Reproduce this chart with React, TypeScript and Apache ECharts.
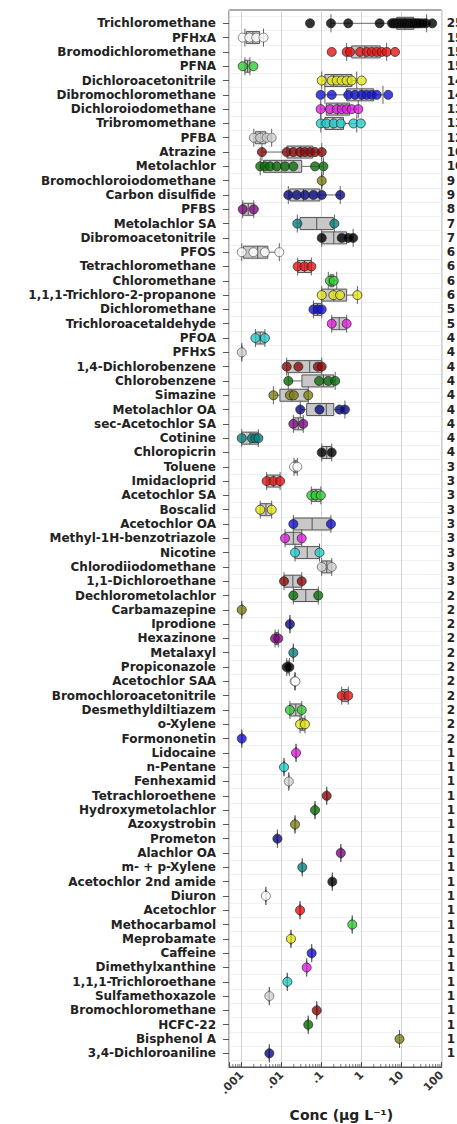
import React, { useEffect, useRef } from 'react';
import * as echarts from 'echarts';

const compounds: string[] = [
  'Trichloromethane', 'PFHxA', 'Bromodichloromethane', 'PFNA', 'Dichloroacetonitrile',
  'Dibromochloromethane', 'Dichloroiodomethane', 'Tribromomethane', 'PFBA', 'Atrazine',
  'Metolachlor', 'Bromochloroiodomethane', 'Carbon disulfide', 'PFBS', 'Metolachlor SA',
  'Dibromoacetonitrile', 'PFOS', 'Tetrachloromethane', 'Chloromethane', '1,1,1-Trichloro-2-propanone',
  'Dichloromethane', 'Trichloroacetaldehyde', 'PFOA', 'PFHxS', '1,4-Dichlorobenzene',
  'Chlorobenzene', 'Simazine', 'Metolachlor OA', 'sec-Acetochlor SA', 'Cotinine',
  'Chloropicrin', 'Toluene', 'Imidacloprid', 'Acetochlor SA', 'Boscalid',
  'Acetochlor OA', 'Methyl-1H-benzotriazole', 'Nicotine', 'Chlorodiiodomethane', '1,1-Dichloroethane',
  'Dechlorometolachlor', 'Carbamazepine', 'Iprodione', 'Hexazinone', 'Metalaxyl',
  'Propiconazole', 'Acetochlor SAA', 'Bromochloroacetonitrile', 'Desmethyldiltiazem', 'o-Xylene',
  'Formononetin', 'Lidocaine', 'n-Pentane', 'Fenhexamid', 'Tetrachloroethene',
  'Hydroxymetolachlor', 'Azoxystrobin', 'Prometon', 'Alachlor OA', 'm- + p-Xylene',
  'Acetochlor 2nd amide', 'Diuron', 'Acetochlor', 'Methocarbamol', 'Meprobamate',
  'Caffeine', 'Dimethylxanthine', '1,1,1-Trichloroethane', 'Sulfamethoxazole', 'Bromochloromethane',
  'HCFC-22', 'Bisphenol A', '3,4-Dichloroaniline',
];

const counts: number[] = [
  25, 15, 15, 15, 14, 14, 13, 13, 12, 10,
  10, 9, 9, 8, 7, 7, 6, 6, 6, 6,
  5, 5, 4, 4, 4, 4, 4, 4, 4, 4,
  4, 3, 3, 3, 3, 3, 3, 3, 3, 3,
  2, 2, 2, 2, 2, 2, 2, 2, 2, 2,
  2, 1, 1, 1, 1, 1, 1, 1, 1, 1,
  1, 1, 1, 1, 1, 1, 1, 1, 1, 1,
  1, 1, 1,
];

// concentrations (µg/L) of each detection, per compound
const detections: number[][] = [
  [0.051, 0.17, 0.46, 2.8, 5.7, 6.2, 6.8, 7.4, 8.1, 8.9, 9.6, 10.5, 11.5, 12.5, 13.8, 15, 16.5, 18, 20, 22, 25, 28, 33, 40, 58],
  [0.00106, 0.00155, 0.0023, 0.0035],
  [0.178, 0.42, 0.51, 0.91, 1.33, 1.78, 2.37, 3.16, 4.2, 6.8],
  [0.00106, 0.00195],
  [0.1, 0.178, 0.237, 0.316, 0.42, 0.56, 1.0],
  [0.094, 0.178, 0.46, 0.68, 1.0, 1.33, 1.78, 2.37, 4.6],
  [0.094, 0.16, 0.237, 0.316, 0.42, 0.56, 0.82],
  [0.095, 0.13, 0.2, 0.3, 0.62, 0.95],
  [0.002, 0.0029, 0.0042, 0.0056],
  [0.0032, 0.0133, 0.0195, 0.0287, 0.038, 0.051, 0.068, 0.1],
  [0.0029, 0.0038, 0.0051, 0.0075, 0.0121, 0.0195, 0.068, 0.11],
  [0.1],
  [0.0146, 0.0237, 0.038, 0.062, 0.1, 0.29],
  [0.00106, 0.002],
  [0.0245, 0.207],
  [0.1, 0.316, 0.46, 0.61],
  [0.001, 0.00195, 0.0038, 0.0087],
  [0.025, 0.037, 0.055],
  [0.16, 0.2],
  [0.1, 0.195, 0.287, 0.78],
  [0.062, 0.08, 0.1],
  [0.178, 0.42],
  [0.0022, 0.0038],
  [0.001],
  [0.0133, 0.026, 0.08, 0.1],
  [0.0146, 0.086, 0.146, 0.217],
  [0.0062, 0.016, 0.02, 0.046],
  [0.029, 0.088, 0.28, 0.38],
  [0.0195, 0.0345],
  [0.001, 0.0018, 0.0022, 0.0026],
  [0.1, 0.178],
  [0.0203, 0.0245],
  [0.0042, 0.0062, 0.0091],
  [0.055, 0.07, 0.095],
  [0.0029, 0.0056],
  [0.0195, 0.17],
  [0.0121, 0.0316],
  [0.0215, 0.088],
  [0.1, 0.178],
  [0.0114, 0.0316],
  [0.0195, 0.082],
  [0.001],
  [0.016],
  [0.0068, 0.0082],
  [0.0195],
  [0.0133, 0.0155],
  [0.021, 0.022],
  [0.316, 0.46],
  [0.016, 0.0316],
  [0.0287, 0.038],
  [0.001],
  [0.0228],
  [0.0114],
  [0.015],
  [0.133],
  [0.068],
  [0.0215],
  [0.0078],
  [0.3],
  [0.0327],
  [0.184],
  [0.004],
  [0.0287],
  [0.58],
  [0.017],
  [0.056],
  [0.042],
  [0.0138],
  [0.0049],
  [0.075],
  [0.046],
  [8.8],
  [0.0049],
];

// box statistics: [whisker low, Q1, median, Q3, whisker high]
// (rows not listed use the range of their detections)
const boxStats: Record<number, number[]> = {
  0: [0.17, 7.5, 12, 20, 42],
  1: [0.0012, 0.0013, 0.0019, 0.0028, 0.0035],
  2: [0.42, 0.56, 1.2, 2.9, 4.2],
  3: [0.0012, 0.0012, 0.0014, 0.0016, 0.0016],
  4: [0.1, 0.12, 0.2, 0.57, 0.75],
  5: [0.12, 0.42, 1.0, 2.0, 3.4],
  6: [0.094, 0.13, 0.25, 0.5, 0.82],
  7: [0.095, 0.12, 0.19, 0.35, 0.75],
  8: [0.002, 0.0022, 0.0029, 0.004, 0.0056],
  9: [0.0032, 0.0135, 0.03, 0.06, 0.1],
  10: [0.0029, 0.0035, 0.01, 0.0316, 0.11],
  12: [0.0146, 0.016, 0.035, 0.09, 0.29],
  14: [0.0245, 0.0287, 0.075, 0.195, 0.207],
  15: [0.1, 0.1, 0.2, 0.42, 0.61],
  16: [0.001, 0.0011, 0.0025, 0.0045, 0.0087],
  18: [0.146, 0.16, 0.18, 0.2, 0.237],
  19: [0.1, 0.1, 0.2, 0.42, 0.78],
  24: [0.0133, 0.0133, 0.05, 0.1, 0.1],
  25: [0.0146, 0.032, 0.11, 0.2, 0.217],
  26: [0.0062, 0.009, 0.018, 0.046, 0.046],
  27: [0.029, 0.042, 0.13, 0.2, 0.38],
};

const xTickValues: number[] = [0.001, 0.01, 0.1, 1, 10, 100];
const xTickLabels: string[] = ['.001', '.01', '.1', '1', '10', '100'];
const minorSteps: number[] = [2, 3, 4, 5, 6, 7, 8, 9];

const palette: string[] = [
  '#000000', '#ffffff', '#e41414', '#33cc33', '#e6e619', '#1414d2', '#dd1fdd', '#25cccc',
  '#cfcfcf', '#8b0a0a', '#0a6e0a', '#7f7f14', '#0a0a80', '#800a80', '#0a8080',
];

const X_MIN = 0.00048;
const X_MAX = 100;

const FONT = 'DejaVu Sans';

function buildOption() {
  const boxData = compounds.map((_, i) => {
    const vals = detections[i];
    let s = boxStats[i];
    if (!s) {
      const lo = Math.min(...vals);
      const hi = Math.max(...vals);
      const md = Math.sqrt(lo * hi);
      s = [lo, lo, md, hi, hi];
    }
    return [i, ...s];
  });

  const pointData: any[] = [];
  detections.forEach((vals, i) => {
    const c = palette[i % palette.length];
    vals.forEach((v) => {
      pointData.push({
        value: [v, i],
        itemStyle: { color: c, borderColor: c === '#ffffff' || c === '#cfcfcf' ? '#555' : '#222', borderWidth: 0.9 },
      });
    });
  });

  const minorData: number[][] = [];
  [0.0001, ...xTickValues].forEach((d) => {
    minorSteps.forEach((m) => {
      const v = d * m;
      if (v > X_MIN && v < X_MAX) minorData.push([v, 0]);
    });
  });

  const gridLeft = 229;
  const gridWidth = 212.7;

  const labelFor = (v: number) => {
    const idx = xTickValues.findIndex((t) => Math.abs(Math.log10(t) - Math.log10(v)) < 1e-6);
    return idx >= 0 ? xTickLabels[idx] : '';
  };

  return {
    animation: false,
    backgroundColor: '#ffffff',
    grid: [
      {
        left: gridLeft, width: gridWidth, top: 10, height: 1057, outerBoundsMode: 'none', containLabel: false,
        show: true, borderColor: '#555', borderWidth: 1, backgroundColor: 'transparent',
      },
      { left: gridLeft, width: gridWidth, top: 16.15, height: 1044.3, outerBoundsMode: 'none', containLabel: false },
    ],
    xAxis: [
      {
        type: 'log', gridIndex: 0, min: X_MIN, max: X_MAX, logBase: 10,
        axisLine: { show: true, onZero: false, lineStyle: { color: '#555', width: 1 } },
        axisTick: { show: true, inside: true, length: 5, lineStyle: { color: '#555' } },
        splitLine: { show: true, lineStyle: { color: '#d2d2d2', width: 1 } },
        axisLabel: {
          rotate: 45, margin: 6, fontFamily: FONT, fontWeight: 'bold', fontSize: 11, color: '#333',
          formatter: (v: number) => labelFor(v),
        },
        name: 'Conc (µg L⁻¹)',
        nameLocation: 'middle',
        nameGap: 41,
        nameTextStyle: { fontFamily: FONT, fontWeight: 'bold', fontSize: 14, color: '#222', padding: [0, 0, 0, 12] },
      },
      {
        type: 'log', gridIndex: 1, min: X_MIN, max: X_MAX, logBase: 10, show: false,
        axisLine: { onZero: false },
        splitLine: { show: false },
      },
    ],
    yAxis: [
      { type: 'value', gridIndex: 0, min: 0, max: 1, show: false, axisLine: { onZero: false }, splitLine: { show: false } },
      {
        type: 'category', gridIndex: 1, data: compounds, inverse: true, position: 'left',
        axisLine: { show: false, onZero: false },
        axisTick: { show: true, alignWithLabel: true, length: 6, lineStyle: { color: '#555' } },
        splitLine: { show: true, lineStyle: { color: '#f1f1f1', width: 1 } },
        axisLabel: { interval: 0, margin: 13, fontFamily: FONT, fontWeight: 'bold', fontSize: 12, color: '#222' },
      },
      {
        type: 'category', gridIndex: 1, data: compounds, inverse: true, position: 'right',
        axisLine: { show: false, onZero: false },
        axisTick: { show: false },
        splitLine: { show: false },
        axisLabel: {
          interval: 0, margin: 5, fontFamily: FONT, fontWeight: 'bold', fontSize: 12, color: '#222',
          formatter: (_v: string, i: number) => String(counts[i]),
        },
      },
    ],
    series: [
      {
        type: 'scatter', xAxisIndex: 0, yAxisIndex: 0, data: minorData, silent: true,
        symbol: 'rect', symbolSize: [1, 3], symbolOffset: [0, -1.5],
        itemStyle: { color: '#555' }, z: 1,
      },
      {
        type: 'custom', xAxisIndex: 1, yAxisIndex: 1, data: boxData, silent: true, z: 2,
        encode: { y: 0, x: [1, 2, 3, 4, 5] },
        renderItem: (_params: any, api: any) => {
          const cat = api.value(0);
          const lo = api.coord([api.value(1), cat]);
          const q1 = api.coord([api.value(2), cat]);
          const md = api.coord([api.value(3), cat]);
          const q3 = api.coord([api.value(4), cat]);
          const hi = api.coord([api.value(5), cat]);
          const y = lo[1];
          const bh = 6;
          const ch = 9;
          const line = { stroke: '#666', lineWidth: 1 };
          return {
            type: 'group',
            children: [
              { type: 'line', shape: { x1: lo[0], y1: y, x2: q1[0], y2: y }, style: line },
              { type: 'line', shape: { x1: q3[0], y1: y, x2: hi[0], y2: y }, style: line },
              { type: 'line', shape: { x1: lo[0], y1: y - ch, x2: lo[0], y2: y + ch }, style: line },
              { type: 'line', shape: { x1: hi[0], y1: y - ch, x2: hi[0], y2: y + ch }, style: line },
              { type: 'rect', shape: { x: q1[0], y: y - bh, width: q3[0] - q1[0], height: bh * 2 }, style: { fill: '#c8c8c8', stroke: '#555', lineWidth: 1 } },
              { type: 'line', shape: { x1: md[0], y1: y - bh, x2: md[0], y2: y + bh }, style: { stroke: '#555', lineWidth: 1 } },
            ],
          };
        },
      },
      {
        type: 'scatter', xAxisIndex: 1, yAxisIndex: 1, data: pointData, symbol: 'circle', symbolSize: 9, z: 3,
      },
    ],
  };
}

export default function App() {
  const ref = useRef<HTMLDivElement>(null);
  useEffect(() => {
    if (!ref.current) return;
    const chart = echarts.init(ref.current, null, { renderer: 'svg' });
    chart.setOption(buildOption() as any);
    return () => chart.dispose();
  }, []);
  return (
    <div
      ref={ref}
      style={{ position: 'absolute', left: 0, top: 0, width: 457, height: 1124, background: '#fff' }}
    />
  );
}
